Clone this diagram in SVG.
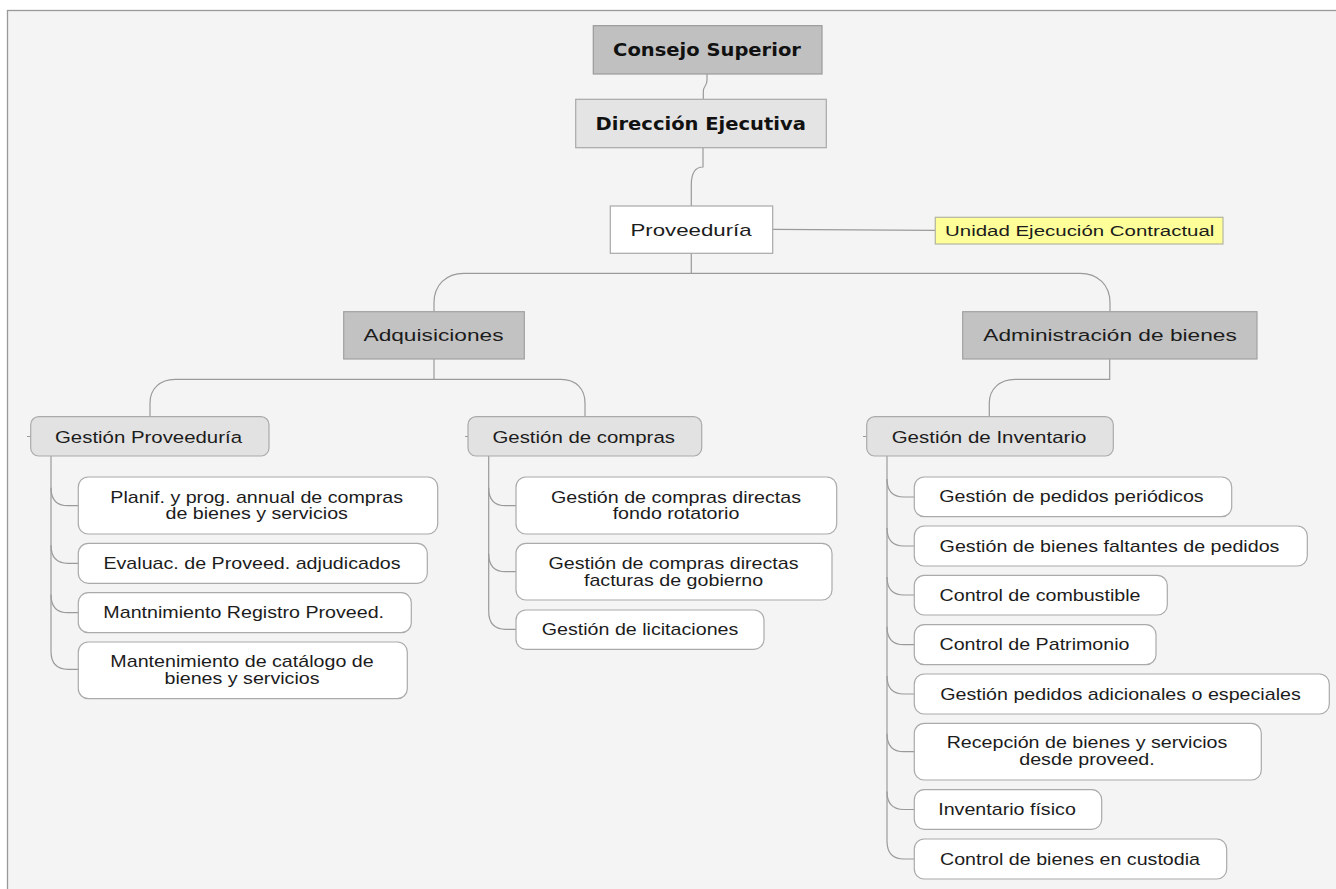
<svg xmlns="http://www.w3.org/2000/svg" width="1336" height="889" viewBox="0 0 1336 889">
<style>
.bg{fill:#f4f4f4;stroke:#999;stroke-width:1.3}
.l0{fill:#c0c0c0;stroke:#999;stroke-width:1.2}
.l1{fill:#e4e4e4;stroke:#a8a8a8;stroke-width:1.2}
.l2{fill:#c2c2c2;stroke:#a0a0a0;stroke-width:1.2}
.pv{fill:#fff;stroke:#a8a8a8;stroke-width:1.2}
.uy{fill:#ffff99;stroke:#b4b4a0;stroke-width:1.2}
.l3{fill:#e2e2e2;stroke:#aaa;stroke-width:1.2}
.l4{fill:#fff;stroke:#aaa;stroke-width:1.2}
.c{fill:none;stroke:#9a9a9a;stroke-width:1.2}
text{font-family:"Liberation Sans",Arial,sans-serif;fill:#1c1c1c;text-anchor:middle}
.tb{font-family:"DejaVu Sans",Verdana,sans-serif;font-weight:bold;font-size:17px;fill:#111}
.t2{font-size:17px}
.tu{font-size:15.5px}
.t3{font-size:16.3px}
.t4{font-size:15.8px}
</style>
<rect class="bg" x="7.5" y="10.5" width="1340" height="890"/>

<g id="connectors">
<path class="c" d="M707,74 V80 C707,87 703.3,85 703.3,92 V99.3"/>
<path class="c" d="M703,147.7 V167 C696,167 691.3,172 691.3,185 V206"/>
<path class="c" d="M772.7,229.3 L935.3,230.3"/>
<path class="c" d="M691.3,253.3 V273.3"/>
<path class="c" d="M434,311.7 V303 C434,285 446,273.3 464,273.3 H1080 C1098,273.3 1110,285 1110,303 V311.7"/>
<path class="c" d="M434,359 V379.3"/>
<path class="c" d="M150,416.7 V403 C150,389 160,379.3 175,379.3 H561 C576,379.3 585,389 585,403 V416.7"/>
<path class="c" d="M1109.7,359 V379.3 H1015 C1000,379.3 989.3,389 989.3,403 V416.7"/>
<path class="c" d="M27,436.5 H30.7 M465,436.5 H468 M863,436.5 H866.7"/>
<path class="c" d="M51,456 V651.3"/>
<path class="c" d="M51,487.7 C51,499.7 57,505.7 68,505.7 H78.3"/>
<path class="c" d="M51,545.3 C51,557.3 57,563.3 68,563.3 H78.3"/>
<path class="c" d="M51,594.7 C51,606.7 57,612.7 68,612.7 H78.3"/>
<path class="c" d="M51,651.3 C51,663.3 57,669.3 68,669.3 H78.3"/>
<path class="c" d="M488.7,456 V611.3"/>
<path class="c" d="M488.7,487.7 C488.7,499.7 494.7,505.7 505.7,505.7 H516"/>
<path class="c" d="M488.7,553.7 C488.7,565.7 494.7,571.7 505.7,571.7 H516"/>
<path class="c" d="M488.7,611.3 C488.7,623.3 494.7,629.3 505.7,629.3 H516"/>
<path class="c" d="M887,456 V841"/>
<path class="c" d="M887,479 C887,491 893,497 904,497 H914.3"/>
<path class="c" d="M887,528 C887,540 893,546 904,546 H914.3"/>
<path class="c" d="M887,577 C887,589 893,595 904,595 H914.3"/>
<path class="c" d="M887,626.7 C887,638.7 893,644.7 904,644.7 H914.3"/>
<path class="c" d="M887,676 C887,688 893,694 904,694 H914.3"/>
<path class="c" d="M887,733.7 C887,745.7 893,751.7 904,751.7 H914.3"/>
<path class="c" d="M887,791.5 C887,803.5 893,809.5 904,809.5 H914.3"/>
<path class="c" d="M887,841 C887,853 893,859 904,859 H914.3"/>
</g>

<g id="consejo-superior">
<rect class="l0" x="593.3" y="25.7" width="228.7" height="48.3"/>
<text class="tb" transform="translate(707,56) scale(1.148,1)">Consejo Superior</text>
</g>
<g id="direccion-ejecutiva">
<rect class="l1" x="575.7" y="99.3" width="250.6" height="48.4"/>
<text class="tb" transform="translate(700.7,129.5) scale(1.147,1)">Dirección Ejecutiva</text>
</g>
<g id="proveeduria">
<rect class="pv" x="610.3" y="206" width="162.4" height="47.3"/>
<text class="t2" transform="translate(691,235.5) scale(1.31,1)">Proveeduría</text>
</g>
<g id="unidad-ejecucion">
<rect class="uy" x="935.3" y="217.3" width="287.7" height="26.7"/>
<text class="tu" transform="translate(1079.7,236) scale(1.32,1)">Unidad Ejecución Contractual</text>
</g>
<g id="adquisiciones">
<rect class="l2" x="343.7" y="311.7" width="180.6" height="47.3"/>
<text class="t2" transform="translate(433.5,341) scale(1.335,1)">Adquisiciones</text>
</g>
<g id="administracion-bienes">
<rect class="l2" x="962.7" y="311.7" width="294.3" height="47.3"/>
<text class="t2" transform="translate(1110,341) scale(1.335,1)">Administración de bienes</text>
</g>

<g id="gestion-proveeduria">
<rect class="l3" x="30.7" y="416.7" width="238.3" height="39.3" rx="8"/>
<text class="t3" transform="translate(148.5,442.5) scale(1.252,1)">Gestión Proveeduría</text>
</g>
<g id="gestion-compras">
<rect class="l3" x="468" y="416.7" width="233.7" height="39.3" rx="8"/>
<text class="t3" transform="translate(583.7,442.5) scale(1.252,1)">Gestión de compras</text>
</g>
<g id="gestion-inventario">
<rect class="l3" x="866.7" y="416.7" width="246.6" height="39.3" rx="8"/>
<text class="t3" transform="translate(989,442.5) scale(1.257,1)">Gestión de Inventario</text>
</g>

<g id="planif">
<rect class="l4" x="78.3" y="477" width="359.4" height="57" rx="10"/>
<text class="t4" transform="translate(256.7,502.5) scale(1.244,1)">Planif. y prog. annual de compras</text>
<text class="t4" transform="translate(256.7,518.7) scale(1.244,1)">de bienes y servicios</text>
</g>
<g id="evaluac">
<rect class="l4" x="78.3" y="543.3" width="349" height="40" rx="10"/>
<text class="t4" transform="translate(252,568.7) scale(1.244,1)">Evaluac. de Proveed. adjudicados</text>
</g>
<g id="mant-registro">
<rect class="l4" x="78.3" y="592.7" width="333" height="40" rx="10"/>
<text class="t4" transform="translate(243.7,618) scale(1.244,1)">Mantnimiento Registro Proveed.</text>
</g>
<g id="mant-catalogo">
<rect class="l4" x="78.3" y="642" width="329" height="56.7" rx="10"/>
<text class="t4" transform="translate(242,667.3) scale(1.244,1)">Mantenimiento de catálogo de</text>
<text class="t4" transform="translate(242,684) scale(1.244,1)">bienes y servicios</text>
</g>

<g id="compras-fondo">
<rect class="l4" x="516" y="477" width="320.7" height="57" rx="10"/>
<text class="t4" transform="translate(676,502.5) scale(1.244,1)">Gestión de compras directas</text>
<text class="t4" transform="translate(676,518.7) scale(1.244,1)">fondo rotatorio</text>
</g>
<g id="compras-facturas">
<rect class="l4" x="516" y="543.3" width="316" height="56.7" rx="10"/>
<text class="t4" transform="translate(673.5,568.7) scale(1.244,1)">Gestión de compras directas</text>
<text class="t4" transform="translate(673.5,585.7) scale(1.244,1)">facturas de gobierno</text>
</g>
<g id="licitaciones">
<rect class="l4" x="516" y="610" width="248" height="39.3" rx="10"/>
<text class="t4" transform="translate(640,635) scale(1.244,1)">Gestión de licitaciones</text>
</g>

<g id="pedidos-periodicos">
<rect class="l4" x="914.3" y="477" width="317.4" height="39.7" rx="10"/>
<text class="t4" transform="translate(1071.5,502.3) scale(1.244,1)">Gestión de pedidos periódicos</text>
</g>
<g id="bienes-faltantes">
<rect class="l4" x="914.3" y="526" width="393" height="40" rx="10"/>
<text class="t4" transform="translate(1109.5,551.5) scale(1.244,1)">Gestión de bienes faltantes de pedidos</text>
</g>
<g id="combustible">
<rect class="l4" x="914.3" y="575.3" width="253" height="39.7" rx="10"/>
<text class="t4" transform="translate(1040,600.5) scale(1.244,1)">Control de combustible</text>
</g>
<g id="patrimonio">
<rect class="l4" x="914.3" y="624.7" width="241.7" height="40" rx="10"/>
<text class="t4" transform="translate(1034.5,650) scale(1.244,1)">Control de Patrimonio</text>
</g>
<g id="pedidos-adicionales">
<rect class="l4" x="914.3" y="674" width="415" height="40" rx="10"/>
<text class="t4" transform="translate(1120.5,699.5) scale(1.244,1)">Gestión pedidos adicionales o especiales</text>
</g>
<g id="recepcion">
<rect class="l4" x="914.3" y="723.3" width="347" height="56.7" rx="10"/>
<text class="t4" transform="translate(1087,748.3) scale(1.244,1)">Recepción de bienes y servicios</text>
<text class="t4" transform="translate(1087,765.3) scale(1.244,1)">desde proveed.</text>
</g>
<g id="inventario-fisico">
<rect class="l4" x="914.3" y="789.7" width="187.4" height="39.6" rx="10"/>
<text class="t4" transform="translate(1007,815) scale(1.244,1)">Inventario físico</text>
</g>
<g id="bienes-custodia">
<rect class="l4" x="914.3" y="839" width="312.4" height="40" rx="10"/>
<text class="t4" transform="translate(1070,864.5) scale(1.244,1)">Control de bienes en custodia</text>
</g>
</svg>
